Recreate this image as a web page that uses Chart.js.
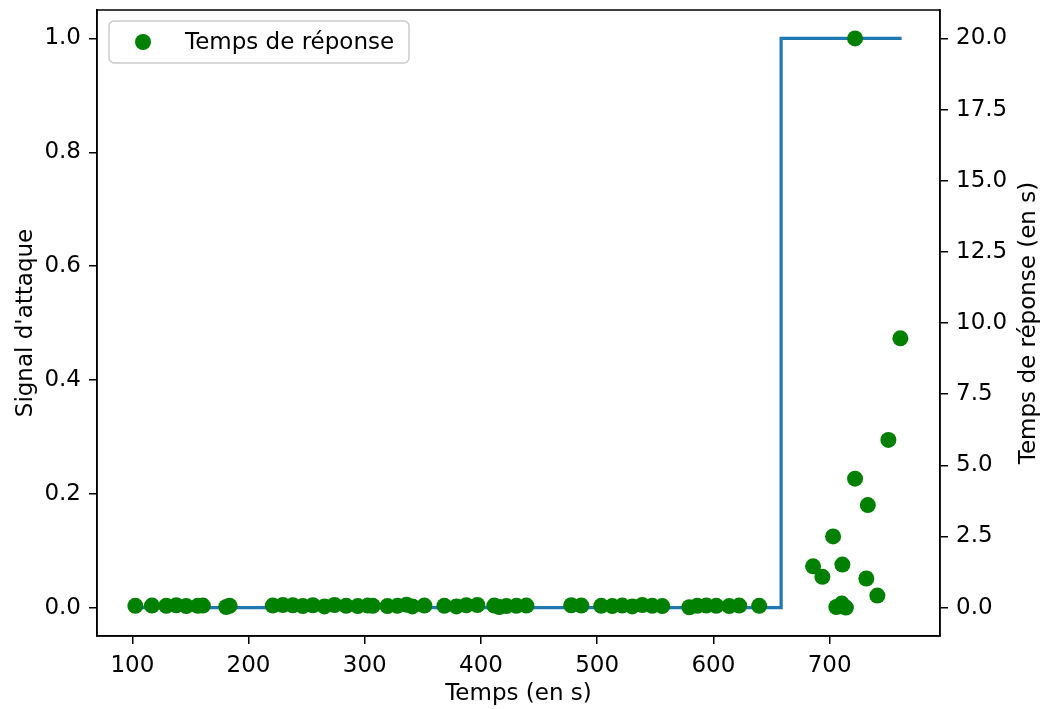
<!DOCTYPE html>
<html>
<head>
    <meta charset="utf-8">
    <title>Temps de réponse</title>
    <script src="https://cdn.jsdelivr.net/npm/chart.js"></script>
    <style>
        body { margin: 0; background: #fff; }
    </style>
</head>
<body>
    <canvas id="chart" width="1042" height="709"></canvas>

    <script>
        // signal d'attaque (courbe en escalier)
        const signalTimes = [102.6, 658.3, 762.0];
        const signalValues = [0, 1, 1];

        // temps de réponse mesurés
        const responseTimes = [
            102.6, 116.9, 129.2, 137.8, 146.4, 156.4, 160.7, 180.8, 183.7,
            220.9, 229.5, 238.1, 246.7, 255.3, 265.3, 274.0, 284.0, 294.0, 302.6, 306.9,
            319.5, 328.1, 335.9, 341.0, 351.3, 368.5, 378.9, 387.4, 396.9,
            411.5, 415.8, 421.9, 430.5, 439.1, 477.7, 486.4,
            503.5, 513.0, 521.6, 530.2, 538.8, 547.4, 556.0,
            579.3, 586.1, 593.9, 602.5, 613.6, 622.2, 639.4,
            685.8, 693.8, 703.0, 705.8, 710.5, 711.0, 714.0, 721.9, 721.9,
            731.6, 732.9, 741.1, 750.6, 760.9
        ];
        const responseValues = [
            0.06, 0.07, 0.06, 0.08, 0.05, 0.06, 0.07, 0.02, 0.06,
            0.07, 0.09, 0.08, 0.05, 0.08, 0.04, 0.09, 0.06, 0.05, 0.07, 0.06,
            0.05, 0.06, 0.10, 0.04, 0.07, 0.06, 0.04, 0.08, 0.09,
            0.07, 0.02, 0.05, 0.06, 0.07, 0.08, 0.07,
            0.06, 0.05, 0.07, 0.04, 0.09, 0.06, 0.05,
            0.01, 0.06, 0.07, 0.06, 0.05, 0.07, 0.06,
            1.45, 1.08, 2.50, 0.02, 0.14, 1.51, 0.00, 20.0, 4.53,
            1.02, 3.60, 0.42, 5.89, 9.46
        ];

        const xTicks = [100, 200, 300, 400, 500, 600, 700];
        const leftTicks = [0, 0.2, 0.4, 0.6, 0.8, 1.0];
        const rightTicks = [0, 2.5, 5, 7.5, 10, 12.5, 15, 17.5, 20];

        const FONT = 'DejaVu Sans';
        const FONT_SIZE = 23;
        Chart.defaults.font.family = FONT;
        Chart.defaults.font.size = FONT_SIZE;
        Chart.defaults.color = '#000';

        const signalPoints = signalTimes.map((t, i) => ({ x: t, y: signalValues[i] }));
        const responsePoints = responseTimes.map((t, i) => ({ x: t, y: responseValues[i] }));

        // cadre, titre de droite et légende à la matplotlib
        const decorPlugin = {
            id: 'decor',
            afterDraw(chart) {
                const ctx = chart.ctx;
                const a = chart.chartArea;
                ctx.save();
                ctx.strokeStyle = '#000';
                ctx.lineWidth = 1.5;
                ctx.strokeRect(a.left, a.top, a.right - a.left, a.bottom - a.top);

                // titre axe droit (lu de bas en haut)
                ctx.fillStyle = '#000';
                ctx.font = FONT_SIZE + 'px "' + FONT + '"';
                ctx.textAlign = 'center';
                ctx.textBaseline = 'middle';
                ctx.translate(1029, (a.top + a.bottom) / 2);
                ctx.rotate(-Math.PI / 2);
                ctx.fillText('Temps de réponse (en s)', 0, 0);
                ctx.restore();

                // légende
                ctx.save();
                const lx = a.left + 12, ly = a.top + 11, lw = 300, lh = 42, r = 5;
                ctx.beginPath();
                ctx.roundRect(lx, ly, lw, lh, r);
                ctx.fillStyle = 'rgba(255,255,255,0.8)';
                ctx.fill();
                ctx.strokeStyle = '#cccccc';
                ctx.lineWidth = 1.5;
                ctx.stroke();
                ctx.beginPath();
                ctx.arc(lx + 34, ly + lh / 2, 8, 0, Math.PI * 2);
                ctx.fillStyle = 'green';
                ctx.fill();
                ctx.fillStyle = '#000';
                ctx.font = FONT_SIZE + 'px "' + FONT + '"';
                ctx.textAlign = 'left';
                ctx.textBaseline = 'middle';
                ctx.fillText('Temps de réponse', lx + 76, ly + lh / 2 + 1);
                ctx.restore();
            }
        };

        const tickGrid = {
            drawOnChartArea: false,
            drawTicks: true,
            tickLength: 8,
            tickWidth: 1.5,
            color: '#000',
            lineWidth: 1.5
        };

        // on fixe les marges pour caler la zone de tracé
        function fitY(width) {
            return s => {
                s.width = width;
                s.paddingTop = 0;
                s.paddingBottom = 0;
            };
        }

        new Chart(document.getElementById('chart'), {
            type: 'scatter',
            data: {
                datasets: [
                    {
                        label: 'Temps de réponse',
                        data: responsePoints,
                        yAxisID: 'y1',
                        backgroundColor: 'green',
                        borderColor: 'green',
                        pointRadius: 8,
                        pointHoverRadius: 8,
                        borderWidth: 0,
                        order: 0
                    },
                    {
                        label: "Signal d'attaque",
                        data: signalPoints,
                        yAxisID: 'y',
                        showLine: true,
                        stepped: 'before',
                        borderColor: '#1f77b4',
                        borderWidth: 3.2,
                        pointRadius: 0,
                        fill: false,
                        order: 1
                    }
                ]
            },
            options: {
                responsive: false,
                animation: false,
                layout: { padding: { left: 10, top: 10, right: 0, bottom: 0 } },
                plugins: {
                    legend: { display: false },
                    tooltip: { enabled: false }
                },
                scales: {
                    x: {
                        type: 'linear',
                        min: 69.6,
                        max: 795,
                        grid: tickGrid,
                        border: { color: '#000', width: 1.5 },
                        ticks: { padding: 8, maxRotation: 0 },
                        afterBuildTicks: s => { s.ticks = xTicks.map(v => ({ value: v })); },
                        afterFit: s => { s.height = 73; s.paddingLeft = 0; s.paddingRight = 0; },
                        title: { display: true, text: 'Temps (en s)', padding: { top: 2, bottom: 1 } }
                    },
                    y: {
                        position: 'left',
                        min: -0.05,
                        max: 1.05,
                        grid: tickGrid,
                        border: { color: '#000', width: 1.5 },
                        ticks: { padding: 8, callback: v => Number(v).toFixed(1) },
                        afterBuildTicks: s => { s.ticks = leftTicks.map(v => ({ value: v })); },
                        afterFit: fitY(87),
                        title: { display: true, text: "Signal d'attaque", padding: { top: 2, bottom: 4 } }
                    },
                    y1: {
                        position: 'right',
                        min: -1,
                        max: 21,
                        grid: tickGrid,
                        border: { color: '#000', width: 1.5 },
                        ticks: { padding: 8, callback: v => Number(v).toFixed(1) },
                        afterBuildTicks: s => { s.ticks = rightTicks.map(v => ({ value: v })); },
                        afterFit: fitY(102)
                    }
                }
            },
            plugins: [decorPlugin]
        });
    </script>
</body>
</html>
